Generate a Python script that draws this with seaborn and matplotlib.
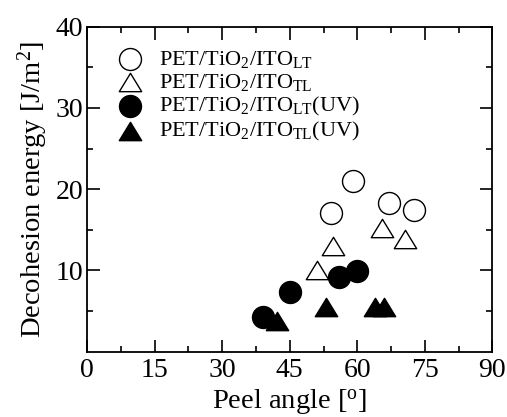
import matplotlib
matplotlib.use("Agg")
import matplotlib.pyplot as plt
from matplotlib.path import Path
import seaborn as sns
import pandas as pd

# Data
lt_x = [54.1, 59.0, 67.0, 72.7]
lt_y = [17.1, 21.0, 18.35, 17.4]
tl_x = [51.0, 54.7, 65.6, 70.7]
tl_y = [10.0, 13.0, 15.2, 13.9]
ltuv_x = [39.0, 45.0, 56.0, 59.9]
ltuv_y = [4.3, 7.3, 9.2, 9.9]
tluv_x = [42.1, 53.0, 63.9, 65.9]
tluv_y = [3.7, 5.5, 5.5, 5.5]
labels = [r'PET/TiO$_2$/ITO$_{\rm LT}$', r'PET/TiO$_2$/ITO$_{\rm TL}$',
          r'PET/TiO$_2$/ITO$_{\rm LT}$(UV)', r'PET/TiO$_2$/ITO$_{\rm TL}$(UV)']
x_ticks = [0, 15, 30, 45, 60, 75, 90]
y_ticks = [10, 20, 30, 40]

sns.set_theme(style="ticks")
plt.rcParams['font.family'] = ['Liberation Serif', 'DejaVu Serif']
plt.rcParams['mathtext.fontset'] = 'custom'
plt.rcParams['mathtext.rm'] = 'Liberation Serif'
plt.rcParams['mathtext.it'] = 'Liberation Serif:italic'
plt.rcParams['mathtext.bf'] = 'Liberation Serif:bold'
for k in ['text.color', 'axes.labelcolor', 'xtick.color', 'ytick.color', 'axes.edgecolor']:
    plt.rcParams[k] = 'black'

fig, ax = plt.subplots(figsize=(5.07, 4.17), dpi=100)
fig.subplots_adjust(left=0.172, right=0.971, top=0.936, bottom=0.157)

tri = Path([(0, 0.82), (-1, -0.82), (1, -0.82), (0, 0.82)], closed=True)

series = [
    (lt_x, lt_y, 'o', 'white'),
    (tl_x, tl_y, tri, 'white'),
    (ltuv_x, ltuv_y, 'o', 'black'),
    (tluv_x, tluv_y, tri, 'black'),
]
for (xs, ys, m, fc), lab in zip(series, labels):
    df = pd.DataFrame({'x': xs, 'y': ys})
    sns.scatterplot(data=df, x='x', y='y', marker=m, s=250 if isinstance(m, str) else 260,
                    facecolor=fc, edgecolor='black', linewidth=1.0, ax=ax,
                    label=lab, zorder=3)

ax.set_xlim(0, 90)
ax.set_ylim(0, 40)
ax.set_xticks(x_ticks)
ax.set_xticklabels([str(t) for t in x_ticks])
ax.set_xticks([7.5, 22.5, 37.5, 52.5, 67.5, 82.5], minor=True)
ax.set_yticks(y_ticks)
ax.set_yticklabels([str(t) for t in y_ticks])
ax.set_yticks([5, 15, 25, 35], minor=True)
ax.tick_params(which='both', direction='in', top=True, right=True,
               labelsize=20, width=1.2, colors='black')
ax.tick_params(axis='x', which='both', pad=5)
ax.tick_params(axis='y', which='both', pad=3)
ax.tick_params(which='major', length=9)
ax.tick_params(which='minor', length=4.5)
for sp in ax.spines.values():
    sp.set_linewidth(1.3)
    sp.set_color('black')

ax.set_xlabel(r'Peel angle [$^{\rm o}$]', fontsize=20.5, labelpad=3)
ax.set_ylabel(r'Decohesion energy [J/m$^2$]', fontsize=20.5, labelpad=4)

leg = ax.legend(loc='upper left', bbox_to_anchor=(0.05, 0.96), frameon=False,
                fontsize=16, handletextpad=0.7, labelspacing=0.1,
                borderaxespad=0, handlelength=1.2)

fig.savefig('out.png', dpi=100)
